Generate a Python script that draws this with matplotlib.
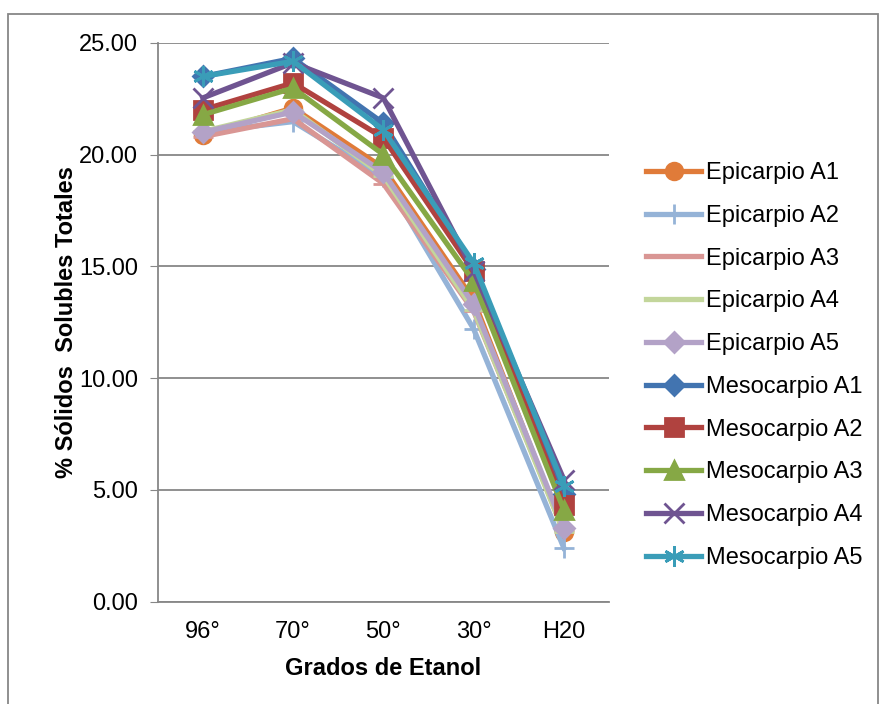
import numpy as np
import matplotlib.pyplot as plt
from matplotlib.patches import Rectangle

plt.rcParams['font.family'] = ['Liberation Sans', 'DejaVu Sans']

categories = ["96°", "70°", "50°", "30°", "H20"]
series_names = ["Epicarpio A1", "Epicarpio A2", "Epicarpio A3", "Epicarpio A4", "Epicarpio A5",
                "Mesocarpio A1", "Mesocarpio A2", "Mesocarpio A3", "Mesocarpio A4", "Mesocarpio A5"]

epi_a1 = [20.88, 22.08, 19.40, 13.50, 3.10]
epi_a2 = [21.00, 21.47, 19.00, 12.20, 2.40]
epi_a3 = [20.80, 21.60, 18.70, 13.00, 3.20]
epi_a4 = [21.03, 22.00, 19.05, 13.06, 3.10]
epi_a5 = [21.00, 21.90, 19.20, 13.30, 3.30]
meso_a1 = [23.49, 24.30, 21.40, 14.90, 4.80]
meso_a2 = [22.00, 23.20, 20.75, 14.77, 4.34]
meso_a3 = [21.78, 22.97, 20.00, 14.33, 4.10]
meso_a4 = [22.53, 24.10, 22.53, 14.80, 5.46]
meso_a5 = [23.49, 24.17, 21.10, 15.15, 5.16]

all_series = [epi_a1, epi_a2, epi_a3, epi_a4, epi_a5,
              meso_a1, meso_a2, meso_a3, meso_a4, meso_a5]
colors = ["#E07B39", "#95B3D7", "#D99694", "#C3D69B", "#B3A2C7",
          "#4274B0", "#B0423F", "#86A845", "#6F5491", "#3A9DB8"]
markers = ["o", "+", "_", "_", "D", "D", "s", "^", "x", (6, 2, 0)]
msizes = [12, 15, 14, 14, 10, 10, 13, 13, 14, 15]

FS = 17

fig = plt.figure(figsize=(8.82, 7.04), dpi=100)
ax = fig.add_axes([157.7 / 882, 1 - 601.7 / 704, (609 - 157.7) / 882, (601.7 - 42.7) / 704])

x = np.arange(len(categories))
for vals, name, c, m, ms in zip(all_series, series_names, colors, markers, msizes):
    ax.plot(x, vals, color=c, lw=3.8, marker=m, markersize=ms,
            markeredgecolor=c, markerfacecolor=c, markeredgewidth=2, label=name)

ax.set_xlim(-0.5, 4.5)
ax.set_ylim(0, 25)
ax.set_yticks(np.arange(0, 25.1, 5))
ax.set_yticklabels(["%.2f" % v for v in np.arange(0, 25.1, 5)])
ax.set_xticks(x)
ax.set_xticklabels(categories)
ax.tick_params(axis='x', length=0, labelsize=FS, pad=14)
ax.tick_params(axis='y', length=6, color='#878787', labelsize=FS, pad=8)
ax.yaxis.grid(True, color='#878787', lw=1.3)
ax.set_axisbelow(True)
for s in ['top', 'right']:
    ax.spines[s].set_visible(False)
ax.spines['left'].set_color('#878787')
ax.spines['bottom'].set_color('#878787')
ax.spines['left'].set_linewidth(1.3)
ax.spines['bottom'].set_linewidth(1.3)

ax.set_xlabel("Grados de Etanol", fontsize=FS, fontweight='bold', labelpad=10)
ax.set_ylabel("% Sólidos  Solubles Totales", fontsize=FS, fontweight='bold', labelpad=1)

fig.legend(loc='upper left', bbox_to_anchor=(646 / 882, 1 - 162 / 704), frameon=False,
           fontsize=FS, labelspacing=0.88, handlelength=2.35, handletextpad=0.2,
           borderaxespad=0, borderpad=0)

fig.patches.append(Rectangle((8 / 882, -0.01), (878 - 8) / 882, (704 - 14) / 704 + 0.01,
                             transform=fig.transFigure, fill=False,
                             edgecolor='#878787', lw=1.3))

fig.savefig("out.png", dpi=100)
